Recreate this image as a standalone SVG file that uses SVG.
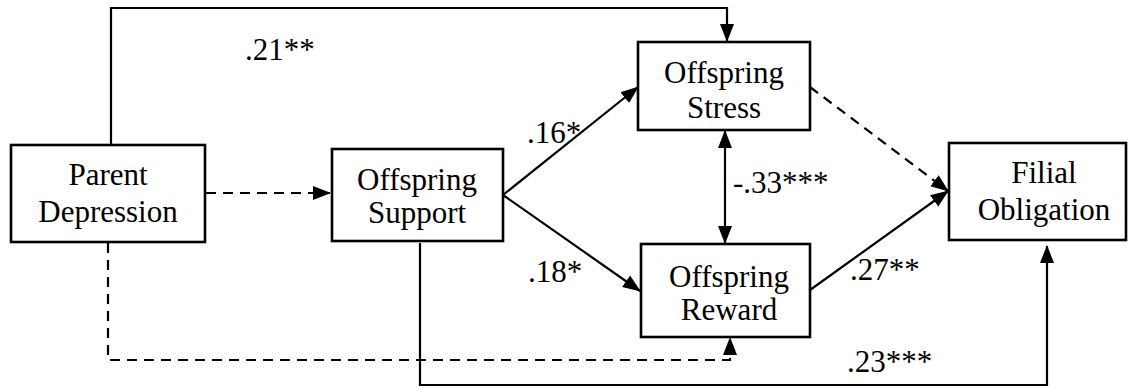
<svg xmlns="http://www.w3.org/2000/svg" width="1128" height="387" viewBox="0 0 1128 387">
<style>
.box{fill:#fff;stroke:#000;stroke-width:2.6}
.t{font-family:'Liberation Serif','Times New Roman',Tinos,'DejaVu Serif',serif;font-size:31px;fill:#000}
.c{text-anchor:middle}
.ln{fill:none;stroke:#000;stroke-width:2.2}
.d{stroke-dasharray:10,7}
</style>
<defs>
<marker id="ah" markerUnits="userSpaceOnUse" markerWidth="18" markerHeight="16" viewBox="0 0 18 16" refX="17" refY="8" orient="auto-start-reverse">
<path d="M0,1 L18,8 L0,15 Z" fill="#000"/>
</marker>
</defs>
<rect width="1128" height="387" fill="#fff"/>
<g id="connectors">
<path class="ln" d="M111,145 V8 H727 V41" marker-end="url(#ah)"/>
<path class="ln d" d="M206,193 H330" marker-end="url(#ah)"/>
<path class="ln d" d="M108,243 V360 H730 V338" marker-end="url(#ah)"/>
<path class="ln" d="M420,243 V385 H1047 V246" marker-end="url(#ah)"/>
<path class="ln" d="M503,195 L638,87" marker-end="url(#ah)"/>
<path class="ln" d="M503,195 L640,291" marker-end="url(#ah)"/>
<path class="ln" d="M725,131 V243" marker-start="url(#ah)" marker-end="url(#ah)"/>
<path class="ln d" d="M810,87 L948,191" marker-end="url(#ah)"/>
<path class="ln" d="M810,290 L948,191" marker-end="url(#ah)"/>
</g>
<g id="parent-depression">
<rect class="box" x="11" y="145" width="194" height="97"/>
<text class="t c" x="108" y="185" font-family="Liberation Serif, DejaVu Serif, serif">Parent</text>
<text class="t c" x="108" y="222" font-family="Liberation Serif, DejaVu Serif, serif">Depression</text>
</g>
<g id="offspring-support">
<rect class="box" x="332" y="149" width="171" height="92"/>
<text class="t c" x="417" y="190">Offspring</text>
<text class="t c" x="417" y="223">Support</text>
</g>
<g id="offspring-stress">
<rect class="box" x="638" y="42" width="172" height="88"/>
<text class="t c" x="724" y="83">Offspring</text>
<text class="t c" x="724" y="118">Stress</text>
</g>
<g id="offspring-reward">
<rect class="box" x="641" y="244" width="169" height="93"/>
<text class="t c" x="729" y="287">Offspring</text>
<text class="t c" x="729" y="320">Reward</text>
</g>
<g id="filial-obligation">
<rect class="box" x="949" y="143" width="177" height="97"/>
<text class="t c" x="1044" y="183">Filial</text>
<text class="t c" x="1044" y="220">Obligation</text>
</g>
<g id="labels">
<text class="t" x="245" y="60">.21**</text>
<text class="t" x="527" y="143">.16*</text>
<text class="t" x="528" y="282">.18*</text>
<text class="t" x="733" y="193">-.33***</text>
<text class="t" x="850" y="280">.27**</text>
<text class="t" x="847" y="372">.23***</text>
</g>
</svg>
